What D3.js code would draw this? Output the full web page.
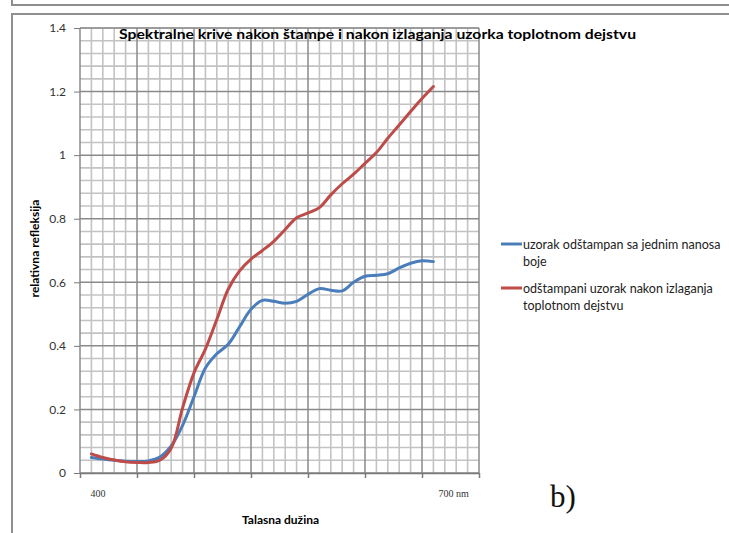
<!DOCTYPE html>
<html>
<head>
<meta charset="utf-8">
<script src="https://cdn.jsdelivr.net/npm/d3@7/dist/d3.min.js"></script>
<style>
  html, body { margin: 0; padding: 0; background: #fff; }
  svg { display: block; }
</style>
</head>
<body>
<svg id="chart" width="729" height="533"></svg>
<script>
// Wavelengths (nm) at which reflectance was measured
const wavelengths = [400, 410, 420, 430, 440, 450, 460, 470, 480, 490, 500,
                     510, 520, 530, 540, 550, 560, 570, 580, 590, 600,
                     610, 620, 630, 640, 650, 660, 670, 680, 690, 700];

// Sample printed with a single ink layer
const printedOnce = [0.049, 0.044, 0.040, 0.037, 0.036, 0.038, 0.050, 0.085, 0.150, 0.240, 0.330,
                     0.375, 0.405, 0.460, 0.515, 0.543, 0.540, 0.534, 0.540, 0.562, 0.580,
                     0.575, 0.573, 0.600, 0.619, 0.622, 0.627, 0.645, 0.660, 0.668, 0.665];

// Printed sample after heat exposure
const afterHeat = [0.060, 0.049, 0.041, 0.035, 0.033, 0.033, 0.040, 0.078, 0.205, 0.315, 0.390,
                   0.483, 0.578, 0.636, 0.673, 0.700, 0.729, 0.766, 0.803, 0.818, 0.835,
                   0.875, 0.910, 0.940, 0.974, 1.008, 1.053, 1.095, 1.137, 1.178, 1.216];

const seriesColors = ["#4a7ebb", "#be4b48"];

const yTicks = [0, 0.2, 0.4, 0.6, 0.8, 1, 1.2, 1.4];
const yTickLabels = ["0", "0.2", "0.4", "0.6", "0.8", "1", "1.2", "1.4"];
const xEndLabels = ["400", "700 nm"];

const title = "Spektralne krive nakon štampe i nakon izlaganja uzorka toplotnom dejstvu";
const xTitle = "Talasna dužina";
const yTitle = "relativna refleksija";

const svg = d3.select("#chart");
const sans = "Lato, 'Open Sans', sans-serif";

// Page frames
svg.append("path")
  .attr("d", "M12,0 V5 H729")
  .attr("fill", "none").attr("stroke", "#8f8f8f").attr("stroke-width", 2);
svg.append("path")
  .attr("d", "M12,533 V14 H729")
  .attr("fill", "none").attr("stroke", "#8f8f8f").attr("stroke-width", 2);

// Plot geometry
const plotLeft = 80, plotRight = 479, plotTop = 28, plotBottom = 473;
const x = d3.scaleLinear().domain([390, 740]).range([plotLeft, plotRight]);
const y = d3.scaleLinear().domain([0, 1.4]).range([plotBottom, plotTop]);

// Graph-paper grid: minor every 10 nm / 0.04, major every 50 nm / 0.2
const grid = svg.append("g");
const vLines = d3.range(390, 741, 10);
const hLines = d3.range(0, 36).map(i => +(i * 0.04).toFixed(2)).concat([1.4]);
const isMajorX = d => (d - 390) % 50 === 0;
const isMajorY = (d, i) => i % 5 === 0;

grid.selectAll("line.vmin").data(vLines.filter(d => !isMajorX(d))).join("line")
  .attr("x1", d => x(d)).attr("x2", d => x(d)).attr("y1", plotTop).attr("y2", plotBottom)
  .attr("stroke", "#c3c3c3").attr("stroke-width", 1.6);
grid.selectAll("line.hmin").data(hLines.filter((d, i) => !isMajorY(d, i))).join("line")
  .attr("y1", d => y(d)).attr("y2", d => y(d)).attr("x1", plotLeft).attr("x2", plotRight)
  .attr("stroke", "#c3c3c3").attr("stroke-width", 1.6);
grid.selectAll("line.vmaj").data(vLines.filter(isMajorX)).join("line")
  .attr("x1", d => x(d)).attr("x2", d => x(d)).attr("y1", plotTop).attr("y2", plotBottom)
  .attr("stroke", "#8a8a8a").attr("stroke-width", 1.5);
grid.selectAll("line.hmaj").data(hLines.filter(isMajorY)).join("line")
  .attr("y1", d => y(d)).attr("y2", d => y(d)).attr("x1", plotLeft).attr("x2", plotRight)
  .attr("stroke", "#8a8a8a").attr("stroke-width", 1.5);

// Axes
const yAxis = d3.axisLeft(y).tickValues(yTicks)
  .tickFormat((d, i) => yTickLabels[i]).tickSize(6).tickPadding(8);
const gy = svg.append("g").attr("transform", `translate(${plotLeft},0)`).call(yAxis);
gy.select(".domain").remove();
gy.selectAll(".tick line").attr("stroke", "#7a7a7a");
gy.selectAll(".tick text").attr("font-family", sans).attr("font-size", 12).attr("fill", "#333");

const xAxis = d3.axisBottom(x).tickValues(vLines.filter(isMajorX))
  .tickFormat("").tickSize(5).tickSizeOuter(0);
const gx = svg.append("g").attr("transform", `translate(0,${plotBottom})`).call(xAxis);
gx.select(".domain").attr("stroke", "#7a7a7a").attr("stroke-width", 1.5);
gx.selectAll(".tick line").attr("stroke", "#7a7a7a").attr("stroke-width", 1.5);

// End labels of the wavelength range
svg.append("text").attr("x", x(400) - 1).attr("y", 497)
  .attr("font-family", "'Liberation Serif', serif").attr("font-size", 10).attr("fill", "#333")
  .text(xEndLabels[0]);
svg.append("text").attr("x", x(700) + 5).attr("y", 497)
  .attr("font-family", "'Liberation Serif', serif").attr("font-size", 10).attr("fill", "#333")
  .text(xEndLabels[1]);

// Curves
const line = d3.line()
  .x((d, i) => x(wavelengths[i]))
  .y(d => y(d))
  .curve(d3.curveCatmullRom.alpha(0.5));

[printedOnce, afterHeat].forEach((vals, k) => {
  svg.append("path").datum(vals)
    .attr("d", line)
    .attr("fill", "none")
    .attr("stroke", seriesColors[k])
    .attr("stroke-width", 3)
    .attr("stroke-linejoin", "round")
    .attr("stroke-linecap", "round");
});

// Title
svg.append("text").attr("x", 119).attr("y", 39)
  .attr("font-family", sans).attr("font-weight", "bold").attr("font-size", 14)
  .attr("textLength", 517).attr("lengthAdjust", "spacingAndGlyphs")
  .attr("fill", "#000").text(title);

// Axis titles
svg.append("text").attr("x", (plotLeft + plotRight) / 2 + 1).attr("y", 524)
  .attr("text-anchor", "middle").attr("font-family", sans).attr("font-weight", "bold")
  .attr("font-size", 12).attr("fill", "#000").text(xTitle);
svg.append("text")
  .attr("transform", `translate(39,${(plotTop + plotBottom) / 2 - 2}) rotate(-90)`)
  .attr("text-anchor", "middle").attr("font-family", sans).attr("font-weight", "bold")
  .attr("font-size", 12).attr("fill", "#000").text(yTitle);

// Panel letter
svg.append("text").attr("x", 550).attr("y", 507)
  .attr("font-family", "'Liberation Serif', serif").attr("font-size", 31).attr("fill", "#111")
  .text("b)");

// Legend
const legendLines = [["uzorak odštampan sa jednim nanosa", "boje"],
                     ["odštampani uzorak nakon izlaganja", "toplotnom dejstvu"]];
const legendY = [244, 288];
legendLines.forEach((rows, k) => {
  svg.append("line")
    .attr("x1", 501).attr("x2", 522).attr("y1", legendY[k]).attr("y2", legendY[k])
    .attr("stroke", seriesColors[k]).attr("stroke-width", 3);
  const t = svg.append("text").attr("x", 523).attr("y", legendY[k] + 4.5)
    .attr("font-family", sans).attr("font-size", 12.5).attr("fill", "#222");
  rows.forEach((r, j) => {
    t.append("tspan").attr("x", 523).attr("dy", j === 0 ? 0 : 17).text(r);
  });
});
</script>
</body>
</html>
